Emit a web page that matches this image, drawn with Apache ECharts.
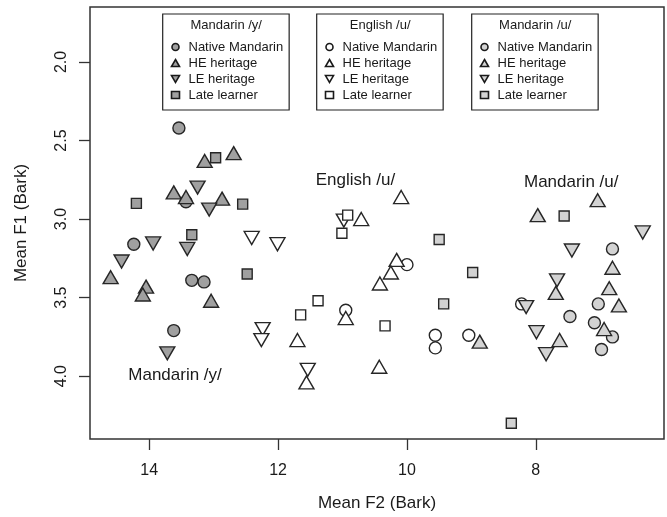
<!DOCTYPE html>
<html><head><meta charset="utf-8">
<script src="https://cdn.jsdelivr.net/npm/echarts@6/dist/echarts.min.js"></script>
<style>html,body{margin:0;padding:0;background:#fff}#c{width:667px;height:517px}</style>
</head><body><div id="c"></div>
<script>
// Axis ticks
const xTicks = [14, 12, 10, 8];
const yTicks = [2.0, 2.5, 3.0, 3.5, 4.0];
const groups = ['Native Mandarin', 'HE heritage', 'LE heritage', 'Late learner'];
const vowels = ['Mandarin /y/', 'English /u/', 'Mandarin /u/'];

// Data: [Mean F2 (Bark), Mean F1 (Bark)]
const mandY_native = [[13.54,2.42],[13.43,2.89],[14.24,3.16],[13.34,3.39],[13.15,3.40],[13.62,3.71]];
const mandY_HE     = [[13.14,2.63],[12.69,2.58],[13.62,2.83],[13.43,2.86],[12.87,2.87],[14.60,3.37],[14.05,3.43],[14.10,3.48],[13.04,3.52]];
const mandY_LE     = [[13.25,2.80],[13.07,2.94],[13.94,3.155],[13.41,3.19],[14.43,3.27],[13.72,3.855]];
const mandY_late   = [[12.97,2.61],[14.20,2.90],[12.55,2.905],[13.34,3.10],[12.48,3.35]];

const engU_native  = [[10.95,3.58],[10.00,3.29],[8.22,3.54],[9.56,3.74],[9.56,3.82],[9.04,3.74]];
const engU_HE      = [[10.71,3.00],[10.95,3.63],[11.70,3.77],[11.56,4.04],[10.09,2.86],[10.16,3.26],[10.25,3.34],[10.42,3.41],[10.43,3.94]];
const engU_LE      = [[10.98,3.01],[12.41,3.12],[12.01,3.16],[12.24,3.70],[12.26,3.77],[11.54,3.96]];
const engU_late    = [[10.92,2.975],[11.01,3.09],[11.38,3.52],[11.65,3.61],[10.34,3.68]];

const mandU_native = [[6.81,3.19],[7.03,3.54],[7.47,3.62],[7.09,3.66],[6.81,3.75],[6.98,3.83]];
const mandU_HE     = [[7.97,2.975],[7.04,2.88],[6.81,3.31],[7.69,3.47],[6.86,3.44],[6.71,3.55],[8.87,3.78],[6.94,3.70],[7.63,3.77]];
const mandU_LE     = [[6.34,3.085],[7.44,3.20],[7.67,3.39],[7.99,3.72],[7.84,3.86],[8.15,3.56]];
const mandU_late   = [[7.56,2.98],[9.50,3.13],[8.98,3.34],[9.43,3.54],[8.38,4.30]];

// In-plot annotations
const annoText = ['English /u/', 'Mandarin /y/', 'Mandarin /u/'];
const annoPos  = [[10.80,2.753],[13.60,3.993],[7.45,2.763]];

const dataSets = [
  [mandY_native, mandY_HE, mandY_LE, mandY_late],
  [engU_native, engU_HE, engU_LE, engU_late],
  [mandU_native, mandU_HE, mandU_LE, mandU_late]
];
const fills = ['#a0a0a0', '#ffffff', '#d3d3d3'];
const keys = ['y', 'e', 'u'];
const downTri = 'path://M0,0L2,0L1,1.732Z';
const symbols = ['circle', 'triangle', downTri, 'rect'];
const sizes = [12, [15, 13], [15, 13], 10];
const FONT = 'Liberation Sans, Arial, sans-serif';

const series = [];
const legends = [];
const graphics = [];
const boxLeft = [162.7, 316.7, 471.7];
for (let v = 0; v < 3; v++) {
  const names = [];
  for (let g = 0; g < 4; g++) {
    const nm = keys[v] + '|' + groups[g];
    names.push(nm);
    series.push({
      type: 'scatter', name: nm, data: dataSets[v][g],
      symbol: symbols[g], symbolSize: sizes[g],
      itemStyle: { color: fills[v], borderColor: '#262626', borderWidth: 1.4, opacity: 1 },
      z: 3
    });
  }
  legends.push({
    data: names, orient: 'vertical', left: boxLeft[v], top: 14,
    padding: [25, 6, 7, 8], itemGap: 0, itemWidth: 8, itemHeight: 7,
    borderColor: '#222', borderWidth: 1.2, selectedMode: false,
    formatter: n => n.split('|')[1],
    itemStyle: { borderColor: '#1a1a1a', borderWidth: 1.6 },
    textStyle: { fontFamily: FONT, fontSize: 13, color: '#1a1a1a', lineHeight: 16, padding: [0, 0, 0, 4] }
  });
  graphics.push({
    type: 'text', x: boxLeft[v] + 63.5, y: 25,
    style: { text: vowels[v], textAlign: 'center', textVerticalAlign: 'middle', font: '13px ' + FONT, fill: '#1a1a1a' }
  });
}
series.push({
  type: 'scatter', name: 'annotations', symbolSize: 0, silent: true,
  itemStyle: { opacity: 1 },
  data: annoText.map((t, i) => ({ name: t, value: annoPos[i] })),
  label: { show: true, position: 'inside', formatter: '{b}', fontFamily: FONT, fontSize: 17, color: '#1a1a1a', textBorderWidth: 0, textBorderColor: 'transparent', opacity: 1 },
  z: 2
});

const chart = echarts.init(document.getElementById('c'), null, { renderer: 'canvas' });
chart.setOption({
  animation: false,
  backgroundColor: '#fff',
  textStyle: { fontFamily: FONT },
  grid: { left: 90, right: 3, top: 7, bottom: 78, show: true, borderColor: '#333', borderWidth: 1.5, backgroundColor: 'transparent' },
  legend: legends,
  graphic: graphics,
  xAxis: {
    type: 'value', min: 6.01, max: 14.92, inverse: true,
    name: 'Mean F2 (Bark)', nameLocation: 'middle', nameGap: 56,
    nameTextStyle: { fontFamily: FONT, fontSize: 17, color: '#1a1a1a' },
    axisLine: { show: false },
    axisTick: { show: true, customValues: xTicks, length: 11, lineStyle: { color: '#333', width: 1.3 } },
    axisLabel: { customValues: xTicks, fontFamily: FONT, fontSize: 16, color: '#1a1a1a', margin: 24, formatter: v => String(v) },
    splitLine: { show: false }
  },
  yAxis: {
    type: 'value', min: 1.65, max: 4.40, inverse: true,
    name: 'Mean F1 (Bark)', nameLocation: 'middle', nameGap: 60, nameRotate: 90,
    nameTextStyle: { fontFamily: FONT, fontSize: 17, color: '#1a1a1a' },
    axisLine: { show: false },
    axisTick: { show: true, customValues: yTicks, length: 11, lineStyle: { color: '#333', width: 1.3 } },
    axisLabel: { customValues: yTicks, rotate: 90, fontFamily: FONT, fontSize: 16, color: '#1a1a1a', margin: 20, formatter: v => v.toFixed(1) },
    splitLine: { show: false }
  },
  series: series
});
</script>
</body></html>
